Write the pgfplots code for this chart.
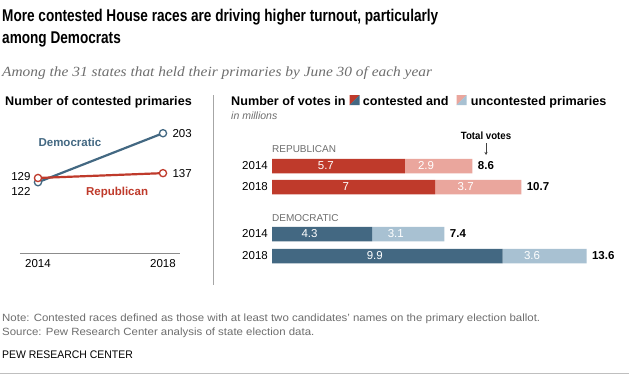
\documentclass[border=0pt]{standalone}
\usepackage{fontspec}
\setmainfont{Liberation Sans}
\newfontfamily\seriffont{Liberation Serif}
\usepackage{pgfplots}
\pgfplotsset{compat=1.18}
\usetikzlibrary{arrows.meta}
\definecolor{rep}{HTML}{BF3A2B}
\definecolor{repl}{HTML}{EAA69D}
\definecolor{dem}{HTML}{436882}
\definecolor{deml}{HTML}{A8C1D2}
\definecolor{txtgray}{HTML}{6E6E6E}
\newcommand{\sx}[2]{\scalebox{#1}[1]{#2}}
\begin{document}
\begin{tikzpicture}[x=1pt,y=1pt]
\fill[white] (0,0) rectangle (629,-375);
\path[use as bounding box] (0,0) rectangle (629,-375);
% Title
\node[anchor=base west, inner sep=0] at (2,-21) {\fontsize{17}{19}\selectfont\bfseries\sx{0.80}{More contested House races are driving higher turnout, particularly}};
\node[anchor=base west, inner sep=0] at (2,-43) {\fontsize{17}{19}\selectfont\bfseries\sx{0.80}{among Democrats}};
\node[anchor=base west, inner sep=0, text=txtgray] at (2,-76) {\seriffont\itshape\fontsize{14}{16}\selectfont\sx{1.1}{Among the 31 states that held their primaries by June 30 of each year}};
% Left header
\node[anchor=base west, inner sep=0] at (5,-105) {\fontsize{12.5}{14}\selectfont\bfseries\sx{1.01}{Number of contested primaries}};
\draw[black!35, line width=0.6pt] (213,-95) -- (213,-285);
% Line chart
\begin{axis}[at={(20pt,-253pt)}, anchor=south west, scale only axis,
  x=31.25pt, y=0.605pt, xmin=2013.424, xmax=2018.544, ymin=5, ymax=215,
  axis x line=bottom, axis y line=none,
  xtick={2014,2018}, xticklabels={2014,2018}, major tick length=0pt,
  x axis line style={-, draw=black!45, line width=0.6pt},
  xticklabel style={font=\fontsize{11.5}{13}\selectfont, yshift=-3pt},
  clip=false]
\addplot[dem, line width=2.2pt, mark=*, mark size=3.6pt, mark options={fill=white, draw=dem, line width=1.3pt}] coordinates {(2014,122) (2018,203)};
\addplot[rep, line width=2.2pt, mark=*, mark size=3.6pt, mark options={fill=white, draw=rep, line width=1.3pt}] coordinates {(2014,129) (2018,137)};
\node[anchor=west, font=\fontsize{11.5}{13}\selectfont, xshift=6pt] at (axis cs:2018,203) {203};
\node[anchor=west, font=\fontsize{11.5}{13}\selectfont, xshift=6pt] at (axis cs:2018,137) {137};
\node[anchor=east, font=\fontsize{11.5}{13}\selectfont, xshift=-4pt, yshift=1pt] at (axis cs:2014,129) {129};
\node[anchor=east, font=\fontsize{11.5}{13}\selectfont, xshift=-4pt, yshift=-9pt] at (axis cs:2014,122) {122};
\node[text=dem, font=\fontsize{11.5}{13}\selectfont\bfseries] at (axis cs:2015.02,188) {Democratic};
\node[text=rep, font=\fontsize{11.5}{13}\selectfont\bfseries] at (axis cs:2016.53,105.5) {Republican};
\end{axis}
% Right header
\node[anchor=base west, inner sep=0] (h1) at (231,-105) {\fontsize{12.5}{14}\selectfont\bfseries\sx{1.01}{Number of votes in}};
\begin{scope}[shift={(h1.base east)}]
\fill[rep] (4,0) -- (4,10) -- (14,10) -- cycle;
\fill[dem] (4,0) -- (14,0) -- (14,10) -- cycle;
\end{scope}
\node[anchor=base west, inner sep=0] (h2) at ([xshift=17pt]h1.base east) {\fontsize{12.5}{14}\selectfont\bfseries\sx{1.01}{contested and}};
\begin{scope}[shift={(h2.base east)}]
\fill[repl] (8,0) -- (8,10) -- (18,10) -- cycle;
\fill[deml] (8,0) -- (18,0) -- (18,10) -- cycle;
\end{scope}
\node[anchor=base west, inner sep=0] at ([xshift=22pt]h2.base east) {\fontsize{12.5}{14}\selectfont\bfseries\sx{1.01}{uncontested primaries}};
\node[anchor=base west, inner sep=0, text=txtgray] at (231,-119) {\fontsize{10.5}{12}\selectfont\itshape in millions};
% Section labels
\node[anchor=base west, inner sep=0, text=txtgray] at (272,-152) {\fontsize{10}{11}\selectfont REPUBLICAN};
\node[anchor=base west, inner sep=0, text=txtgray] at (272,-221) {\fontsize{10}{11}\selectfont DEMOCRATIC};
\node[anchor=base, inner sep=0] at (486,-139) {\fontsize{10.5}{12}\selectfont\bfseries\sx{0.92}{Total votes}};
\draw[black!75, line width=0.5pt, -{Stealth[length=3pt,width=3pt]}] (486,-143) -- (486,-155);
% Year labels
\foreach \yy/\lab in {166/2014, 187/2018, 234/2014, 256/2018}
  \node[anchor=east, inner sep=0, font=\fontsize{11.5}{13}\selectfont] at (268,-\yy) {\lab};
% Republican bars
\begin{axis}[at={(272pt,-200pt)}, anchor=south west, scale only axis,
  x=23.3pt, y=1pt, xmin=0, xmax=14, ymin=-200, ymax=-150,
  hide axis, clip=false, xbar stacked, bar width=14.5pt,
  nodes near coords, point meta=explicit symbolic,
  every node near coord/.append style={anchor=east, text=white, font=\fontsize{11.5}{13}\selectfont, xshift=-1pt}]
\addplot[fill=rep, draw=none] coordinates {(5.7,-166) [5.7] (7,-187) [7]};
\addplot[fill=repl, draw=none] coordinates {(2.9,-166) [2.9] (3.7,-187) [3.7]};
\node[anchor=west, font=\fontsize{11.5}{13}\selectfont\bfseries, xshift=2pt] at (axis cs:8.6,-166) {8.6};
\node[anchor=west, font=\fontsize{11.5}{13}\selectfont\bfseries, xshift=2pt] at (axis cs:10.7,-187) {10.7};
\end{axis}
% Democratic bars
\begin{axis}[at={(272pt,-270pt)}, anchor=south west, scale only axis,
  x=23.3pt, y=1pt, xmin=0, xmax=14, ymin=-270, ymax=-220,
  hide axis, clip=false, xbar stacked, bar width=14.5pt,
  nodes near coords, point meta=explicit symbolic,
  every node near coord/.append style={anchor=east, text=white, font=\fontsize{11.5}{13}\selectfont, xshift=-1pt}]
\addplot[fill=dem, draw=none] coordinates {(4.3,-234) [4.3] (9.9,-256) [9.9]};
\addplot[fill=deml, draw=none] coordinates {(3.1,-234) [3.1] (3.6,-256) [3.6]};
\node[anchor=west, font=\fontsize{11.5}{13}\selectfont\bfseries, xshift=2pt] at (axis cs:7.4,-234) {7.4};
\node[anchor=west, font=\fontsize{11.5}{13}\selectfont\bfseries, xshift=2pt] at (axis cs:13.5,-256) {13.6};
\end{axis}
% Footer
\node[anchor=base west, inner sep=0, text=txtgray] at (2,-321) {\fontsize{10.5}{12}\selectfont\sx{1.09}{Note: Contested races defined as those with at least two candidates' names on the primary election ballot.}};
\node[anchor=base west, inner sep=0, text=txtgray] at (2,-335) {\fontsize{10.5}{12}\selectfont\sx{1.09}{Source: Pew Research Center analysis of state election data.}};
\node[anchor=base west, inner sep=0] at (2,-358) {\fontsize{11}{12}\selectfont\sx{0.95}{PEW RESEARCH CENTER}};
\draw[black!25, line width=0.6pt] (0,-373.5) -- (629,-373.5);
\end{tikzpicture}
\end{document}
